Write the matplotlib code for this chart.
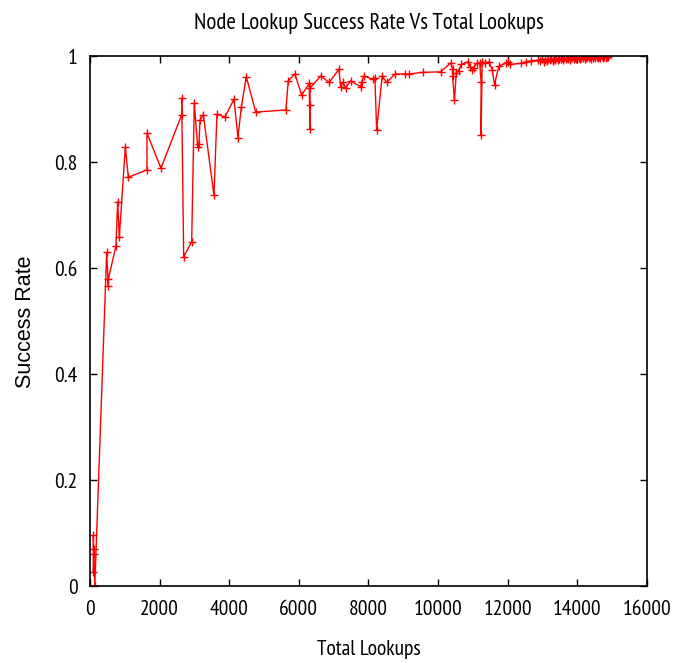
import matplotlib
matplotlib.use("Agg")
import matplotlib.pyplot as plt

# data (total lookups, success rate)
lookups = [
    95, 100, 105, 115, 140,
    482, 529, 529, 749, 797, 845, 1017, 1103, 1639, 1639, 2041,
    2636, 2636, 2693, 2923, 2998, 3094, 3132, 3161, 3257, 3563,
    3649, 3879, 4137, 4252, 4348, 4491, 4760,
    5630, 5696, 5889, 6081, 6299, 6319, 6319, 6319, 6626, 6873,
    7152, 7200, 7258, 7353, 7487, 7775, 7803, 7870, 8137, 8186,
    8234, 8395, 8521, 8768, 9038, 9153, 9555, 10072,
    10365, 10414, 10414, 10471, 10520, 10589, 10666, 10859, 10925,
    10973, 11022, 11119, 11197, 11235, 11235, 11264, 11361, 11456,
    11554, 11620, 11746, 11938, 12007, 12064, 12374, 12518, 12664,
    12857, 12930, 12990, 13040, 13080, 13120, 13170, 13210, 13250,
    13290, 13330, 13370, 13400, 13440, 13480, 13520, 13560, 13600,
    13630, 13670, 13710, 13740, 13780, 13820, 13850, 13890, 13930,
    13960, 14000, 14040, 14070, 14110, 14150, 14180, 14220, 14260,
    14290, 14330, 14370, 14400, 14440, 14480, 14510, 14550, 14590,
    14620, 14660, 14700, 14730, 14770, 14810, 14850, 14880,
]
success = [
    0.026, 0.096, 0.070, 0.060, 0.000,
    0.630, 0.567, 0.579, 0.643, 0.726, 0.659, 0.829, 0.772, 0.786, 0.855, 0.789,
    0.890, 0.921, 0.622, 0.650, 0.913, 0.830, 0.834, 0.880, 0.890, 0.738,
    0.891, 0.886, 0.919, 0.847, 0.904, 0.962, 0.895,
    0.899, 0.954, 0.967, 0.927, 0.949, 0.863, 0.908, 0.940, 0.963, 0.951,
    0.976, 0.943, 0.951, 0.941, 0.954, 0.943, 0.952, 0.963, 0.957, 0.959,
    0.862, 0.963, 0.951, 0.967, 0.967, 0.967, 0.970, 0.971,
    0.988, 0.977, 0.964, 0.917, 0.969, 0.973, 0.985, 0.990, 0.980,
    0.975, 0.979, 0.988, 0.987, 0.952, 0.852, 0.990, 0.988, 0.990,
    0.975, 0.947, 0.982, 0.987, 0.990, 0.985, 0.987, 0.990, 0.992,
    0.993, 0.991, 0.995, 0.990, 0.994, 0.992, 0.996, 0.993, 0.995,
    0.991, 0.996, 0.994, 0.997, 0.993, 0.996, 0.995, 0.998, 0.994,
    0.997, 0.995, 0.998, 0.996, 0.994, 0.997, 0.999, 0.995, 0.998,
    0.996, 0.999, 0.997, 0.995, 0.998, 0.997, 1.000, 0.996, 0.998,
    0.999, 0.997, 0.999, 0.996, 0.998, 1.000, 0.997, 0.999, 0.998,
    0.999, 0.997, 1.000, 0.998, 0.999, 0.998, 0.999, 0.999,
]

xticks = [0, 2000, 4000, 6000, 8000, 10000, 12000, 14000, 16000]
yticks = [0, 0.2, 0.4, 0.6, 0.8, 1.0]
ytick_labels = ["0", "0.2", "0.4", "0.6", "0.8", "1"]

narrow = ["PT Sans Narrow", "DejaVu Sans"]

fig = plt.figure(figsize=(6.78, 6.63), dpi=100)
ax = fig.add_axes([0.1326, 0.1161, 0.8217, 0.7987])

ax.plot(lookups, success, color="#ff0000", linewidth=1.0, marker="+",
        markersize=5.5, markeredgewidth=1.0)

ax.set_xlim(0, 16000)
ax.set_ylim(0, 1)
ax.set_xticks(xticks)
ax.set_xticklabels([str(t) for t in xticks], fontfamily=narrow, fontsize=15.5)
ax.set_yticks(yticks)
ax.set_yticklabels(ytick_labels, fontfamily=narrow, fontsize=15.5)
ax.tick_params(direction="in", length=5, width=1, top=True, right=True)
ax.tick_params(axis="x", pad=10)
ax.tick_params(axis="y", pad=9)
for s in ax.spines.values():
    s.set_linewidth(1.2)

ax.set_title("Node Lookup Success Rate Vs Total Lookups", fontfamily=narrow,
             fontsize=16.5, pad=20)
ax.set_xlabel("Total Lookups", fontfamily=narrow, fontsize=15.5, labelpad=15)
ax.set_ylabel("Success Rate", fontfamily="Liberation Sans", fontsize=15.5, labelpad=13)

fig.savefig("out.png", dpi=100)
